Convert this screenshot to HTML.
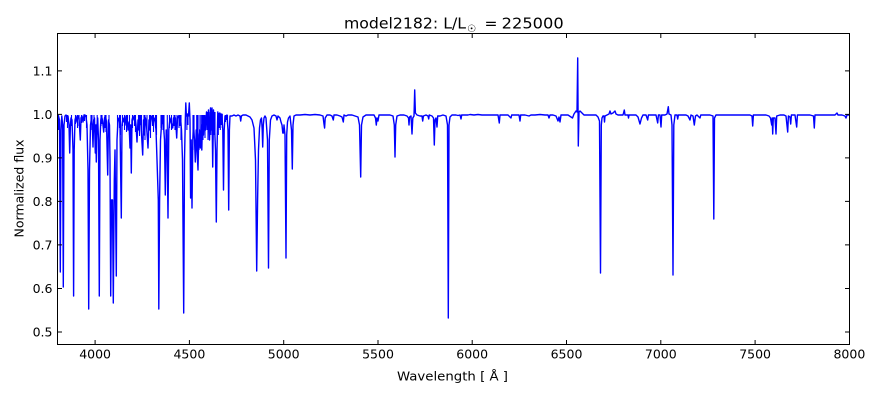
<!DOCTYPE html>
<html>
<head>
<meta charset="utf-8">
<style>
html,body{margin:0;padding:0;background:#fff;}
svg{display:block;}
text{font-family:"DejaVu Sans","Liberation Sans",sans-serif;fill:#000;}
</style>
</head>
<body>
<svg width="880" height="400" viewBox="0 0 880 400" xmlns="http://www.w3.org/2000/svg">
<defs>
<clipPath id="pa"><rect x="57.5" y="33.5" width="792" height="311"/></clipPath>
</defs>
<rect x="0" y="0" width="880" height="400" fill="#fff"/>

<g clip-path="url(#pa)">
<path fill="none" stroke="#0000ff" stroke-width="1.4" stroke-linejoin="round" d="
M57.5,118 L58.5,116 L59.5,120 L60.3,272 L61,130 L61.8,116 L62.6,125 L63.3,287 L64,125 L65,116 L66,115 L67,117 L68,116 L69,125 L69.7,153 L70.4,125 L71,118 L72,120 L73,150 L73.6,296 L74.2,150 L75,120 L76,116 L77,122 L78,116 L79,118 L80.3,140 L81,118 L82,116 L83,122 L84,115 L85,115 L86,117 L87,125 L88,170 L88.7,309 L89.5,170 L90.5,125 L91.5,118 L92.3,125 L93,147 L93.7,120 L94.5,118 L95.3,153 L95.8,125 L96.3,162 L97,125 L97.7,118 L98.5,140 L99.3,296 L100,140 L100.8,120 L101.5,116 L102.5,120 L103.7,132 L104.5,118 L105.5,116 L106.5,122 L107.7,175 L108.5,120 L109.5,125 L110,160 L110.7,296 L111.5,200 L112.5,200 L113.3,303 L114.3,180 L115,150 L116.3,276 L117,140 L118,120 L119,118 L120,125 L121.3,218 L122,125 L123,118 L124,122 L125,116 L126,125 L127,118 L128,130 L129,122 L130,148 L130.6,125 L131.3,173 L132,120 L133,116 L134,120 L135,116 L136,125 L137,142 L138,120 L139,130 L140,118 L141,125 L142.7,155 L143.5,120 L144.5,135 L145.5,118 L146.5,125 L148,148 L149,120 L150,130 L151,118 L152,116 L153,125 L154,118 L155,120 L156,130 L157,160 L158.3,200 L158.8,309 L159.6,200 L160.5,140 L161.5,125 L162.5,118 L163.5,125 L164.5,140 L165.3,195 L166.2,130 L167,135 L168,218 L168.8,130 L170,118 L171,122 L172.7,128 L173.5,118 L174.5,125 L175.5,118 L176.7,138 L177.5,118 L178.5,116 L179.5,120 L180.5,118 L181.5,130 L182.5,160 L183.7,313 L184.5,160 L185.3,120 L185.8,103 L186.4,116 L187.5,114 L188.5,116 L189.3,103 L190,120 L190.6,198 L191.2,140 L192,208 L192.8,140 L193.5,125 L194.5,140 L195.3,162 L196.2,130 L197,150 L198,170 L198.8,135 L199.5,130 L200.3,148 L201.2,125 L201.8,150 L202.6,118 L203.5,135 L204.5,118 L205.5,130 L206.5,112 L207.5,125 L208.5,110 L209.5,140 L210.5,108 L211.5,130 L212,108 L212.7,167 L213.5,110 L214.5,125 L215.5,150 L216.3,222 L217,150 L217.8,112 L218.8,125 L219.8,113 L220.8,120 L221.8,114 L222.8,130 L223.5,190 L224.2,130 L225,116 L226,118 L227,115 L228,130 L228.7,210 L229.4,130 L230,116 L232,116 L234,115 L236,116 L238,115 L240,116 L240.7,121 L241.4,116 L243,115 L246,115 L248,116 L250,117 L252,120 L254,128 L255.5,160 L256.7,271 L257.6,200 L258.5,150 L259.5,128 L260.5,120 L261.5,118 L262.2,130 L262.7,147 L263.3,125 L264,118 L265,116 L266,118 L267.5,140 L268.5,268 L269.3,140 L270.5,120 L272,116 L274,115 L276,116 L277,120 L278,116 L280,118 L281,122 L282,125 L282.8,133 L283.5,133 L284,125 L285,135 L286,258 L286.7,135 L287.5,122 L288.5,118 L290,116 L291.5,130 L292.3,169 L293,125 L294,116
L296,115 L300,115 L305,114.5 L310,115 L315,114.5 L320,115 L323,116 L324,124 L324.6,128 L325.2,118 L327,115 L330,115 L332,116 L333.3,120 L334,115 L337,115 L340,116 L342,117 L343.3,122 L344,115 L346,116 L348,115 L352,115 L355,116 L358,117 L359.5,125 L360.7,177 L361.5,125 L363,117 L366,115 L370,115 L374,115 L375.5,118 L376.3,125 L377,118 L378,121 L379,115 L382,115 L386,115 L390,115 L393,116 L394.3,125 L395,157 L395.7,125 L397,116 L400,115 L404,115 L407,116 L408.5,118 L409,125 L409.6,117 L411,116 L412,134 L412.8,118 L414,116 L414.7,90 L415.4,113 L417,115 L420,116 L422,116 L422.7,121 L423.4,116 L426,115 L428,116 L428.7,119 L429.3,115 L432,116 L433.5,118 L434.3,145 L435,120 L436,118 L437,127 L437.7,116 L440,116 L443,115 L446,116 L447.5,125 L448.3,318 L449,125 L450,117 L452,115
L456,115 L458,115.5 L460,115 L461,119 L461.7,115 L465,115 L468,115 L470,114.5 L474,115 L478,114.5 L482,115 L486,115 L490,115 L495,115 L498,115 L499.3,123 L500,115 L504,115 L508,115 L511,118 L511.7,115 L515,115 L519,115 L520,121 L520.7,115 L525,115 L529,116 L531,115 L535,115 L540,114.5 L545,115 L548,115 L549,118 L550,115 L553,115 L556,116 L558,121 L559,117 L560,122 L561,115 L564,115 L568,115 L571,117 L572.5,118 L574,114 L576,111 L577,112 L577.7,58 L578.3,146 L579,112 L580,111 L582,113 L584,115 L588,115 L592,115 L596,115 L598,117 L599.5,121 L600.5,273 L601.3,125 L602,118 L603,116 L604,116 L604.5,122 L605,116 L607,115 L609,114 L610,111 L611,114 L613,113 L615,111 L616,114 L618,115 L621,115 L623,115 L624.3,110 L625,115 L628,115 L628.5,118 L629,115 L632,115 L636,115 L638,117 L640,124 L641.5,118 L643,115 L646,115 L647.7,120 L648.4,115 L652,115 L656,115 L657.7,123 L658.4,115 L660,115 L661,127 L661.7,115 L665,115 L667,114 L668.3,106.7 L669,114 L671,115 L672,125 L673,275 L673.8,125 L675,115 L677,115 L677.7,119 L678.4,115 L682,115 L686,115 L688,116 L690,120 L691,115 L693,116 L694.3,125 L695.5,116 L697,115 L700,118 L700.8,115 L705,115 L710,115 L713,116 L713.8,219 L714.5,118 L716,115
L720,115 L725,115 L730,115 L735,115 L740,115 L745,115 L750,115 L752,116 L752.7,126 L753.4,115 L757,115 L762,115 L766,115 L769,116 L770.5,118 L771.7,125 L772.2,118 L772.7,134 L773.3,118 L775,118 L776,134 L776.7,116 L780,115 L784,115 L786,116 L787.7,132 L788.4,116 L790,117 L790.7,124 L791.4,115 L795,115 L796.7,127 L797.4,115 L800,115 L805,115 L810,115 L813.5,116 L814.3,128 L815,115 L820,115 L825,115 L830,115 L835,115 L837,113 L838,115 L842,115 L845,116 L846,118 L847,115 L849.5,115"/>
<path fill="none" stroke="#0000ff" stroke-width="1.1" d="
M58.5,115V130 M66.5,115V122 M67.5,115V128 M71.5,115V126 M75.5,115V124 M77.5,115V128 M79,115V126 M81.5,115V123 M84.5,115V121 M86.5,115V128 M91,115V130 M92,115V122 M94,115V128 M97.2,115V135 M101,115V126 M102,115V124 M104.9,115V128 M106,115V132 M109,115V130 M117.5,115V130 M119.5,115V128 M120.5,115V135 M122.5,115V126 M124.5,115V130 M126.5,115V132 M127.5,115V125 M129.5,115V135 M132.5,115V128 M134.5,115V126 M135.5,115V132 M138.5,115V128 M139.5,115V136 M140.5,115V125 M141.5,115V132 M144,115V128 M145,115V140 M147,115V132 M149.5,115V128 M150.5,115V138 M152.5,115V126 M153.5,115V132 M155.5,115V128 M156.5,115V135 M161,115V128 M162,115V124 M163,115V130 M164,115V134 M167.3,115V150 M169.5,115V128 M171.5,115V130 M174,115V126 M175,115V130 M177,115V124 M179,115V128 M180,115V126 M181,115V140 M186.9,115V130 M188,115V125 M193,115V150 M194,115V135 M196.7,115V145 M197.5,115V160 M199,115V150 M200.8,115V140 M202,115V135 M203,115V140 M204,115V130 M205,115V138 M207,112V130 M208,112V140 M209,112V130 M210.8,110V135 M211.2,110V125 M213,112V140 M214,112V135 M215,112V135 M218.3,113V135 M219.3,113V128 M220.3,113V130 M221.3,114V125 M222.3,114V128 M225.5,115V122 M226.5,115V120 M227.5,115V124"/>
</g>

<!-- axes frame -->
<rect x="57.5" y="33.5" width="792" height="311" fill="none" stroke="#000" stroke-width="1"/>

<!-- ticks -->
<g stroke="#000" stroke-width="1">
<path d="M95.1,344.5V340 M189.4,344.5V340 M283.7,344.5V340 M378,344.5V340 M472.2,344.5V340 M566.5,344.5V340 M660.8,344.5V340 M755.1,344.5V340"/>
<path d="M95.1,33.5V38 M189.4,33.5V38 M283.7,33.5V38 M378,33.5V38 M472.2,33.5V38 M566.5,33.5V38 M660.8,33.5V38 M755.1,33.5V38"/>
<path d="M57.5,70.9H62 M57.5,114.4H62 M57.5,157.9H62 M57.5,201.4H62 M57.5,244.9H62 M57.5,288.5H62 M57.5,332H62"/>
<path d="M849.5,70.9H845 M849.5,114.4H845 M849.5,157.9H845 M849.5,201.4H845 M849.5,244.9H845 M849.5,288.5H845 M849.5,332H845"/>
</g>

<!-- x tick labels -->
<g font-size="12.5" text-anchor="middle">
<text x="95.1" y="358.5">4000</text>
<text x="189.4" y="358.5">4500</text>
<text x="283.7" y="358.5">5000</text>
<text x="378" y="358.5">5500</text>
<text x="472.2" y="358.5">6000</text>
<text x="566.5" y="358.5">6500</text>
<text x="660.8" y="358.5">7000</text>
<text x="755.1" y="358.5">7500</text>
<text x="849.4" y="358.5">8000</text>
</g>

<!-- y tick labels -->
<g font-size="12.5" text-anchor="end">
<text x="52.5" y="75.4">1.1</text>
<text x="52.5" y="118.9">1.0</text>
<text x="52.5" y="162.4">0.9</text>
<text x="52.5" y="205.9">0.8</text>
<text x="52.5" y="249.4">0.7</text>
<text x="52.5" y="293">0.6</text>
<text x="52.5" y="336.5">0.5</text>
</g>

<!-- axis labels -->
<text x="397" y="380.7" font-size="12.5" textLength="111" lengthAdjust="spacingAndGlyphs">Wavelength [ Å ]</text>
<text transform="translate(23.5,188.5) rotate(-90)" font-size="12.5" text-anchor="middle">Normalized flux</text>

<!-- title -->
<text x="344" y="28.7" font-size="15.5" textLength="122" lengthAdjust="spacingAndGlyphs">model2182: L/L</text>
<text x="467" y="32" font-size="10">☉</text>
<text x="484.5" y="28.7" font-size="15.5">=</text>
<text x="501.7" y="28.7" font-size="15.5" textLength="62" lengthAdjust="spacingAndGlyphs">225000</text>
</svg>
</body>
</html>
